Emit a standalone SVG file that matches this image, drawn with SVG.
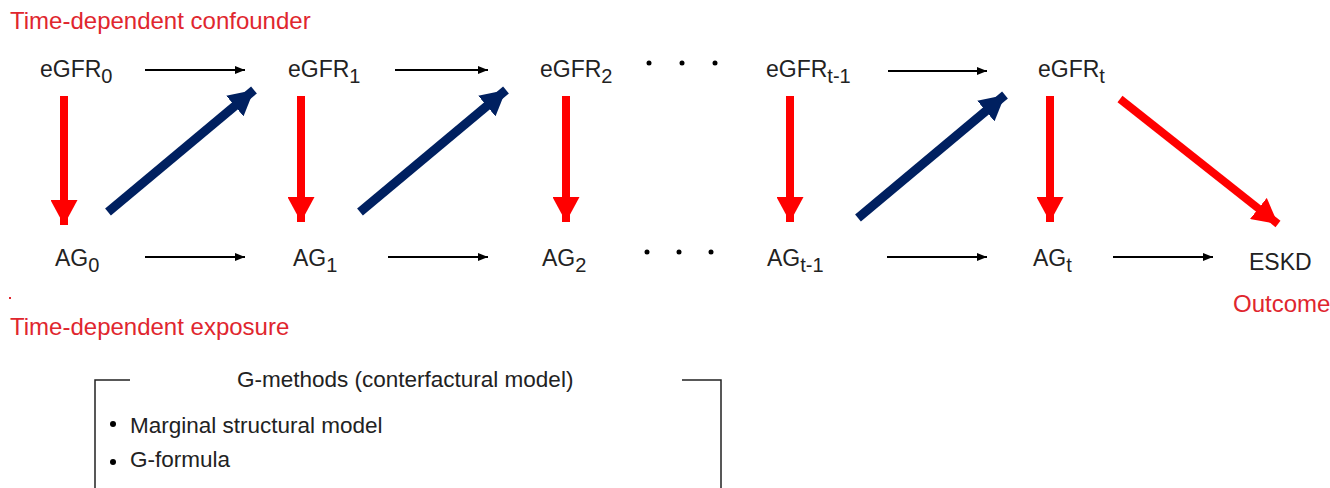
<svg xmlns="http://www.w3.org/2000/svg" width="1330" height="488" viewBox="0 0 1330 488">
  <style>
    .lbl { font-family: "Liberation Sans", Arial, sans-serif; font-size: 24px; fill: #E0262E; }
    .node { font-family: "Liberation Sans", Arial, sans-serif; font-size: 23px; fill: #222222; }
    .sub { font-size: 20px; }
    .note { font-family: "Liberation Sans", Arial, sans-serif; font-size: 22.5px; fill: #222222; }
    .thin { stroke: #000000; stroke-width: 2; fill: none; }
    .red { stroke: #FF0000; stroke-width: 8; fill: none; }
    .navy { stroke: #002060; stroke-width: 9; fill: none; }
    .box { stroke: #222222; stroke-width: 1.5; fill: none; }
    .dot { fill: #000000; }
  </style>
  <defs>
    <marker id="headThin" viewBox="0 0 10 8" refX="10" refY="4" markerWidth="10" markerHeight="8" markerUnits="userSpaceOnUse" orient="auto">
      <path d="M0,0 L10,4 L0,8 Z" fill="#000000"/>
    </marker>
    <marker id="headRed" viewBox="0 0 25 27" refX="25" refY="13.5" markerWidth="25" markerHeight="27" markerUnits="userSpaceOnUse" orient="auto">
      <path d="M0,0 L25,13.5 L0,27 Z" fill="#FF0000"/>
    </marker>
    <marker id="headNavy" viewBox="0 0 25 27" refX="25" refY="13.5" markerWidth="25" markerHeight="27" markerUnits="userSpaceOnUse" orient="auto">
      <path d="M0,0 L25,13.5 L0,27 Z" fill="#002060"/>
    </marker>
  </defs>

  <!-- category labels -->
  <text class="lbl" x="10" y="29">Time-dependent confounder</text>
  <text class="lbl" x="10" y="335">Time-dependent exposure</text>
  <rect x="9" y="297" width="2" height="2" fill="#E0262E"/>

  <!-- confounder row -->
  <g id="eGFR0"><text class="node" x="40" y="77">eGFR<tspan class="sub" dy="6">0</tspan></text></g>
  <g id="eGFR1"><text class="node" x="288" y="77">eGFR<tspan class="sub" dy="6">1</tspan></text></g>
  <g id="eGFR2"><text class="node" x="540" y="77">eGFR<tspan class="sub" dy="6">2</tspan></text></g>
  <g id="eGFRt-1"><text class="node" x="766" y="77">eGFR<tspan class="sub" dy="6">t-1</tspan></text></g>
  <g id="eGFRt"><text class="node" x="1038" y="77">eGFR<tspan class="sub" dy="6">t</tspan></text></g>

  <!-- exposure row -->
  <g id="AG0"><text class="node" x="55" y="266">AG<tspan class="sub" dy="6">0</tspan></text></g>
  <g id="AG1"><text class="node" x="293" y="266">AG<tspan class="sub" dy="6">1</tspan></text></g>
  <g id="AG2"><text class="node" x="542" y="266">AG<tspan class="sub" dy="6">2</tspan></text></g>
  <g id="AGt-1"><text class="node" x="767" y="266">AG<tspan class="sub" dy="6">t-1</tspan></text></g>
  <g id="AGt"><text class="node" x="1033" y="266">AG<tspan class="sub" dy="6">t</tspan></text></g>

  <!-- outcome -->
  <g id="ESKD">
    <text class="node" x="1249" y="270">ESKD</text>
    <text class="lbl" x="1233" y="312">Outcome</text>
  </g>

  <!-- ellipses between time points -->
  <g id="ellipsis-top">
    <circle class="dot" cx="649" cy="63" r="2.5"/>
    <circle class="dot" cx="682" cy="63" r="2.5"/>
    <circle class="dot" cx="715" cy="63" r="2.5"/>
  </g>
  <g id="ellipsis-bottom">
    <circle class="dot" cx="647" cy="252" r="2.5"/>
    <circle class="dot" cx="679" cy="252" r="2.5"/>
    <circle class="dot" cx="711" cy="252" r="2.5"/>
  </g>

  <g id="connectors">
    <!-- eGFR over time -->
    <line class="thin" x1="145" y1="70" x2="245" y2="70" marker-end="url(#headThin)"/>
    <line class="thin" x1="395" y1="70" x2="488" y2="70" marker-end="url(#headThin)"/>
    <line class="thin" x1="888" y1="71" x2="987" y2="71" marker-end="url(#headThin)"/>
    <!-- AG over time -->
    <line class="thin" x1="145" y1="257" x2="245" y2="257" marker-end="url(#headThin)"/>
    <line class="thin" x1="388" y1="257" x2="488" y2="257" marker-end="url(#headThin)"/>
    <line class="thin" x1="887" y1="257" x2="987" y2="257" marker-end="url(#headThin)"/>
    <line class="thin" x1="1113" y1="257" x2="1213" y2="257" marker-end="url(#headThin)"/>
    <!-- eGFR affects AG -->
    <line class="red" x1="64" y1="96" x2="64" y2="225" marker-end="url(#headRed)"/>
    <line class="red" x1="301" y1="96" x2="301" y2="222" marker-end="url(#headRed)"/>
    <line class="red" x1="566" y1="96" x2="566" y2="222" marker-end="url(#headRed)"/>
    <line class="red" x1="790" y1="96" x2="790" y2="222" marker-end="url(#headRed)"/>
    <line class="red" x1="1050" y1="96" x2="1050" y2="222" marker-end="url(#headRed)"/>
    <!-- eGFR to outcome -->
    <line class="red" x1="1120" y1="99" x2="1278" y2="224" marker-end="url(#headRed)"/>
    <!-- AG affects next eGFR -->
    <line class="navy" x1="108" y1="212" x2="254" y2="90" marker-end="url(#headNavy)"/>
    <line class="navy" x1="360" y1="212" x2="506" y2="90" marker-end="url(#headNavy)"/>
    <line class="navy" x1="858" y1="218" x2="1005" y2="95" marker-end="url(#headNavy)"/>
  </g>

  <!-- methods panel -->
  <g id="g-methods">
    <path class="box" d="M130,380 H95 V488"/>
    <path class="box" d="M682,380 H721 V488"/>
    <text class="note" x="237" y="387">G-methods (conterfactural model)</text>
    <circle class="dot" cx="113" cy="424" r="3"/>
    <text class="note" x="130" y="433">Marginal structural model</text>
    <circle class="dot" cx="113" cy="462" r="3"/>
    <text class="note" x="130" y="467">G-formula</text>
  </g>
</svg>
